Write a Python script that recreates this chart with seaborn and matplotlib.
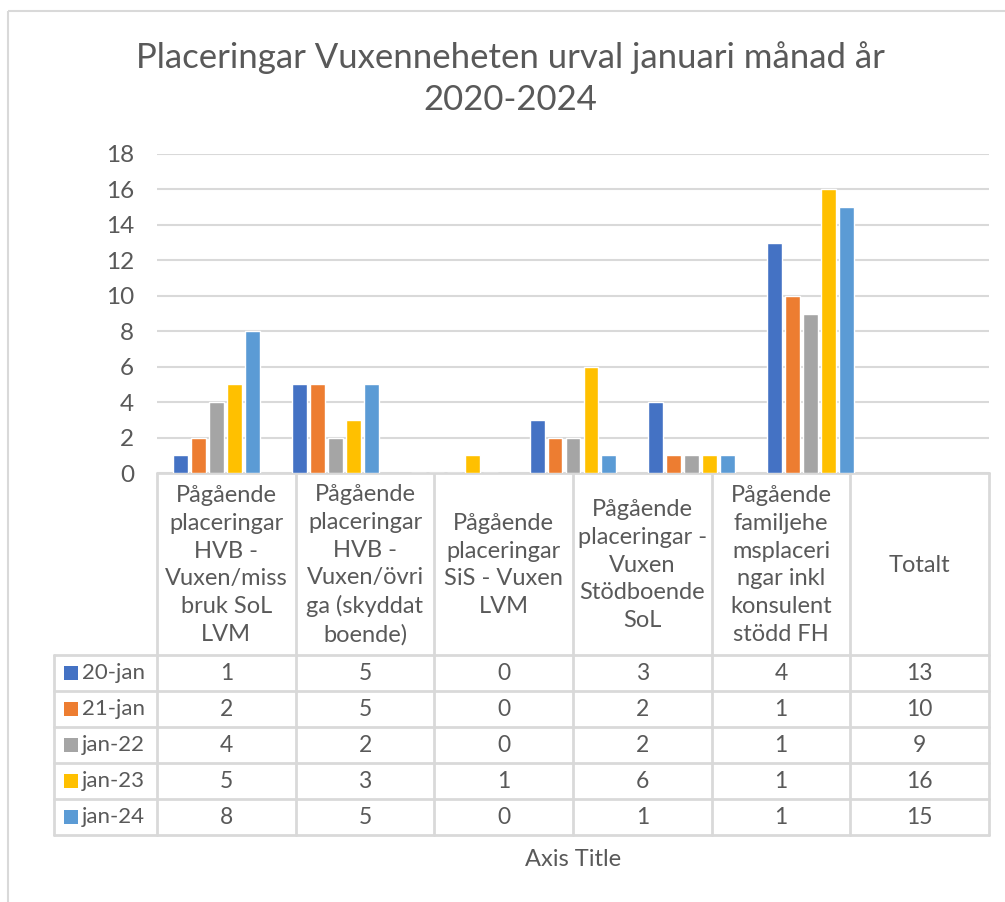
import matplotlib
matplotlib.use("Agg")
import matplotlib.pyplot as plt
import seaborn as sns
import pandas as pd
from matplotlib.patches import Rectangle

# ---- data -------------------------------------------------------------
categories = [
    "Pågående\nplaceringar\nHVB -\nVuxen/miss\nbruk SoL\nLVM",
    "Pågående\nplaceringar\nHVB -\nVuxen/övri\nga (skyddat\nboende)",
    "Pågående\nplaceringar\nSiS - Vuxen\nLVM",
    "Pågående\nplaceringar -\nVuxen\nStödboende\nSoL",
    "Pågående\nfamiljehe\nmsplaceri\nngar inkl\nkonsulent\nstödd FH",
    "Totalt",
]
series = ["20-jan", "21-jan", "jan-22", "jan-23", "jan-24"]
v_20jan = [1, 5, 0, 3, 4, 13]
v_21jan = [2, 5, 0, 2, 1, 10]
v_jan22 = [4, 2, 0, 2, 1, 9]
v_jan23 = [5, 3, 1, 6, 1, 16]
v_jan24 = [8, 5, 0, 1, 1, 15]
values = [v_20jan, v_21jan, v_jan22, v_jan23, v_jan24]
colors = ["#4472C4", "#ED7D31", "#A5A5A5", "#FFC000", "#5B9BD5"]
y_ticks = [0, 2, 4, 6, 8, 10, 12, 14, 16, 18]

title = "Placeringar Vuxenneheten urval januari månad år\n2020-2024"
x_title = "Axis Title"

rows = []
for s, vals in zip(series, values):
    for c, v in zip(categories, vals):
        rows.append({"kategori": c, "serie": s, "antal": v})
df = pd.DataFrame(rows)

# ---- styling ----------------------------------------------------------
sns.set_style("white")
plt.rcParams["font.family"] = ["Lato", "DejaVu Sans"]
TXT = "#595959"
GRID = "#D9D9D9"

W, H = 1005, 902
fig = plt.figure(figsize=(W / 100, H / 100), dpi=100)

def frac(x0, y0, x1, y1):
    return [x0 / W, 1 - y1 / H, (x1 - x0) / W, (y1 - y0) / H]

# overlay axes in pixel coordinates for frame, title and data table
ov = fig.add_axes([0, 0, 1, 1], zorder=0)
ov.set_xlim(0, W)
ov.set_ylim(H, 0)
ov.axis("off")

# chart-area frame
ov.add_patch(Rectangle((8, 11), W + 20, H + 20, fill=False, ec=GRID, lw=1.5))

# ---- bar plot ---------------------------------------------------------
PL, PR, PT, PB = 157, 989, 154, 473
ax = fig.add_axes(frac(PL, PT, PR, PB), zorder=1)
ax.patch.set_alpha(0)
sns.barplot(data=df, x="kategori", y="antal", hue="serie", order=categories,
            hue_order=series, palette=colors, width=0.756, gap=0.17,
            saturation=1, legend=False, ax=ax, zorder=3)
ax.set_xlim(-0.5, 6.5)
ax.set_ylim(0, 18)
ax.set_yticks(y_ticks)
ax.set_yticklabels([str(t) for t in y_ticks], fontsize=17.5, color=TXT)
ax.tick_params(axis="y", length=0, pad=16.5)
ax.set_xticks([])
ax.set_xlabel("")
ax.set_ylabel("")
ax.yaxis.grid(True, color=GRID, lw=1.5, zorder=0)
ax.set_axisbelow(True)
for sp in ax.spines.values():
    sp.set_visible(False)

# ---- title ------------------------------------------------------------
ov.text(510, 79, title, ha="center", va="center", fontsize=25,
        color=TXT, linespacing=1.38)

# ---- data table -------------------------------------------------------
n = len(categories)
col_w = (PR - PL) / n
col_x = [PL + i * col_w for i in range(n + 1)]
row_y = [655, 691, 727, 763, 799, 835]
LX = 54
lw_t = 2

ov.plot([PL, PR], [PB, PB], color=GRID, lw=lw_t, zorder=2)
for y in row_y:
    ov.plot([LX, PR], [y, y], color=GRID, lw=lw_t)
ov.plot([LX, LX], [row_y[0], row_y[-1]], color=GRID, lw=lw_t)
for x in col_x:
    ov.plot([x, x], [PB, row_y[-1]], color=GRID, lw=lw_t)

for i, c in enumerate(categories):
    cx = (col_x[i] + col_x[i + 1]) / 2
    ov.text(cx, (PB + row_y[0]) / 2 + 1, c, ha="center", va="center",
            fontsize=17, color=TXT, linespacing=1.39)

for r, (s, vals, col) in enumerate(zip(series, values, colors)):
    cy = (row_y[r] + row_y[r + 1]) / 2
    ov.add_patch(Rectangle((64, cy - 7), 14, 14, color=col, lw=0))
    ov.text(82, cy, s, ha="left", va="center", fontsize=16, color=TXT)
    for i, v in enumerate(vals):
        cx = (col_x[i] + col_x[i + 1]) / 2
        ov.text(cx, cy, str(v), ha="center", va="center", fontsize=16.5,
                color=TXT)

ov.text(573, 860, x_title, ha="center", va="center", fontsize=17, color=TXT)

fig.savefig("out.png", dpi=100)
